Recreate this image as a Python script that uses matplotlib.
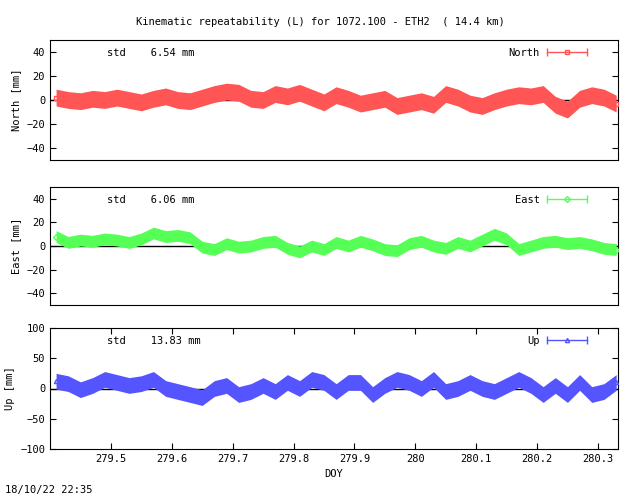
import numpy as np
import matplotlib
matplotlib.use("Agg")
import matplotlib.pyplot as plt

doy = [279.41 + 0.02 * i for i in range(47)]
north = [2, 0, -1, 1, 0, 2, 0, -2, 1, 3, 0, -1, 2, 5, 7, 6, 1, 0, 5, 3, 6, 2, -2, 4, 1, -3, -1, 1, -5, -3,
         -1, -4, 5, 2, -3, -5, -1, 2, 4, 3, 5, -4, -8, 1, 4, 2, -3]
east = [8, 3, 5, 4, 6, 5, 3, 6, 11, 8, 9, 7, -1, -3, 2, -1, 0, 3, 4, -2, -5, 0, -3, 3, 0, 4, 1, -3, -4, 2,
        4, 0, -2, 3, 0, 5, 10, 6, -3, 0, 3, 4, 2, 3, 1, -2, -3]
up = [12, 8, -2, 5, 15, 10, 5, 8, 15, 0, -5, -10, -15, 0, 5, -10, -5, 5, -5, 10, 0, 15, 10, -5, 10, 10, -10,
      5, 15, 10, 0, 15, -5, 0, 10, 0, -5, 5, 15, 5, -10, 5, -10, 10, -10, -5, 10]
spread = {"North": 7, "East": 5, "Up": 13}
stds = {"North": "6.54", "East": "6.06", "Up": "13.83"}
xticks = [279.5, 279.6, 279.7, 279.8, 279.9, 280.0, 280.1, 280.2, 280.3]
xticklabels = ["279.5", "279.6", "279.7", "279.8", "279.9", "280", "280.1", "280.2", "280.3"]

plt.rcParams["font.family"] = "DejaVu Sans Mono"
plt.rcParams["font.size"] = 7.5
fig = plt.figure(figsize=(6.4, 4.96), dpi=100)
W = 640; H = 496
def rect(x0, y0, x1, y1):
    return [x0 / W, 1 - y1 / H, (x1 - x0) / W, (y1 - y0) / H]

panels = [
    ("North", north, "#ff5555", "s", rect(50, 40, 618, 160), (-50, 50), [-40, -20, 0, 20, 40], "North [mm]"),
    ("East", east, "#55ff55", "D", rect(50, 187, 618, 305), (-50, 50), [-40, -20, 0, 20, 40], "East [mm]"),
    ("Up", up, "#5555ff", "^", rect(50, 328, 618, 449), (-100, 100), [-100, -50, 0, 50, 100], "Up [mm]"),
]
x = np.array(doy)
for name, vals, col, mk, r, ylim, yt, ylab in panels:
    ax = fig.add_axes(r)
    v = np.array(vals, float)
    s = spread[name]
    ax.axhline(0, color="black", lw=1, zorder=1)
    ax.fill_between(x, v - s, v + s, color=col, lw=0, zorder=2)
    ax.plot(x, v, ls="none", marker=mk, ms=3, mfc="none", mec=col, zorder=3)
    ax.set_xlim(279.4, 280.333)
    ax.set_ylim(*ylim)
    ax.set_yticks(yt)
    ax.set_ylabel(ylab)
    ax.tick_params(direction="in", right=True, length=4)
    if name == "Up":
        ax.set_xticks(xticks)
        ax.set_xticklabels(xticklabels)
        ax.tick_params(top=True)
        ax.set_xlabel("DOY")
    else:
        ax.set_xticks([])
    ax.text(0.1, 0.93, "std    %s mm" % stds[name], transform=ax.transAxes, va="top")
    ax.text(0.862, 0.93, name, transform=ax.transAxes, va="top", ha="right")
    ax.plot([0.875, 0.945], [0.9, 0.9], transform=ax.transAxes, color=col, lw=1, marker="|", markevery=[0, 1], ms=6)
    ax.plot([0.91], [0.9], transform=ax.transAxes, color=col, marker=mk, ms=3, mfc="none")

fig.text(0.5, 1 - 22 / H, "Kinematic repeatability (L) for 1072.100 - ETH2  ( 14.4 km)", ha="center", va="center")
fig.text(5 / W, 1 - 490 / H, "18/10/22 22:35", ha="left", va="center")
fig.savefig("out.png", dpi=100)
